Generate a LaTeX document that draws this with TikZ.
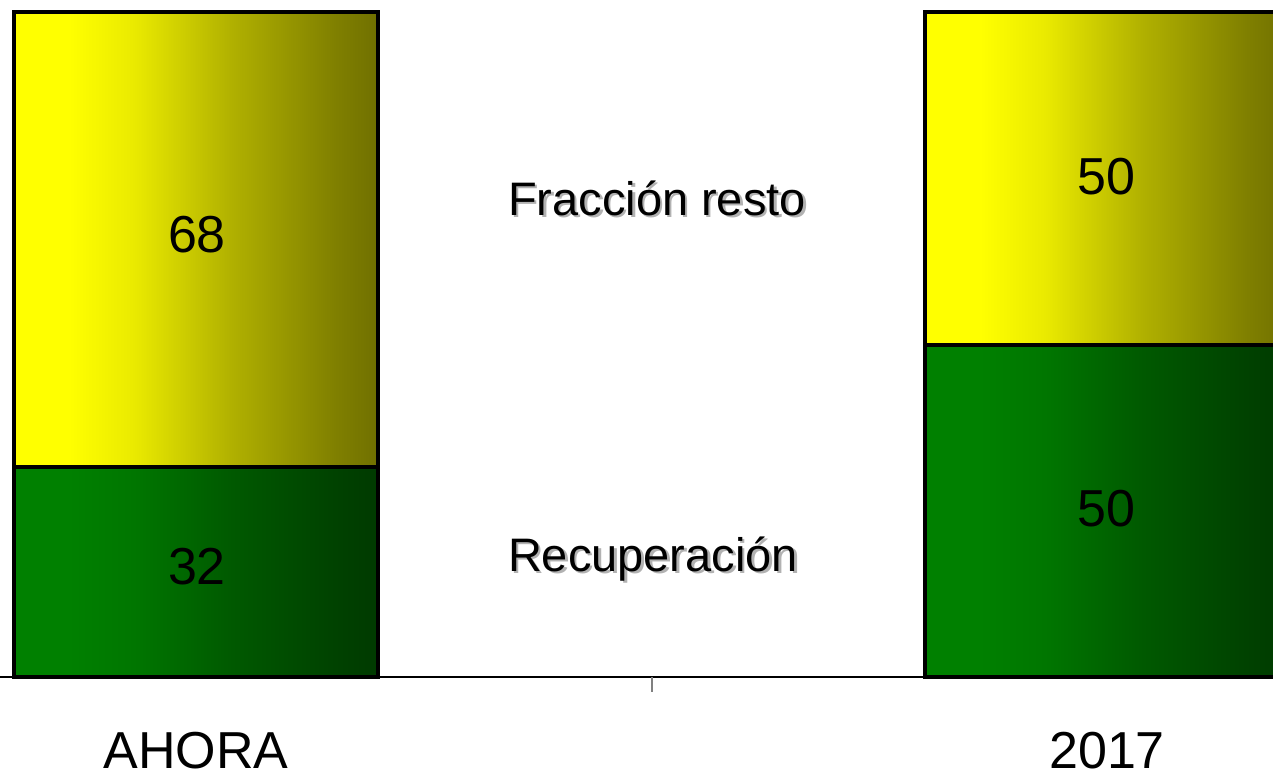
\documentclass[tikz,border=0pt]{standalone}
\usepackage{fontspec}
\setmainfont{Liberation Sans}
\definecolor{ylL}{RGB}{255,255,0}
\definecolor{ylA}{RGB}{234,234,0}
\definecolor{ylB}{RGB}{176,176,0}
\definecolor{ylC}{RGB}{128,128,0}
\definecolor{ylR}{RGB}{112,112,0}
\definecolor{grL}{RGB}{0,128,0}
\definecolor{grA}{RGB}{0,118,0}
\definecolor{grB}{RGB}{0,89,0}
\definecolor{grC}{RGB}{0,66,0}
\definecolor{grR}{RGB}{0,58,0}
\definecolor{shadowgray}{RGB}{178,178,178}
\pgfdeclarehorizontalshading{yshade}{100bp}{color(0bp)=(ylL); color(25bp)=(ylL); color(32.5bp)=(ylL); color(41.5bp)=(ylA); color(55bp)=(ylB); color(69bp)=(ylC); color(75bp)=(ylR); color(100bp)=(ylR)}
\pgfdeclarehorizontalshading{gshade}{100bp}{color(0bp)=(grL); color(25bp)=(grL); color(32.5bp)=(grL); color(41.5bp)=(grA); color(55bp)=(grB); color(69bp)=(grC); color(75bp)=(grR); color(100bp)=(grR)}
\tikzset{
  ybar/.style={shading=yshade,draw=black,line width=4pt},
  gbar/.style={shading=gshade,draw=black,line width=4pt},
  val/.style={inner sep=0pt,font=\fontsize{52}{60}\selectfont},
  cat/.style={inner sep=0pt,font=\fontsize{52}{60}\selectfont},
  legend/.style={inner sep=0pt,font=\fontsize{47}{56}\selectfont},
}
\begin{document}
\begin{tikzpicture}[x=1pt,y=-1pt]
\useasboundingbox (0,0) rectangle (1273,775);
\clip (0,0) rectangle (1273,775);
% left bar
\shade[ybar] (14,12) rectangle (378,467);
\shade[gbar] (14,467) rectangle (378,677);
% right bar
\shade[ybar] (925,12) rectangle (1289,345);
\shade[gbar] (925,345) rectangle (1289,677);
% axis
\coordinate (axL) at (0,677);
\coordinate (axR) at (1273,677);
\coordinate (tkT) at (652,677);
\coordinate (tkB) at (652,692);
\draw[line width=2pt] (axL) -- (axR);
\draw[line width=1.5pt,gray] (tkT) -- (tkB);
% values
\node[val] (v68) at (197,235) {68};
\node[val] (v32) at (197,567) {32};
\node[val] (v50a) at (1106,177) {50};
\node[val] (v50b) at (1106,509) {50};
% legend labels with shadow
\node[legend,text=shadowgray] (fsh) at (659.5,200.5) {Fracción resto};
\node[legend] (fr) at (657,198) {Fracción resto};
\node[legend,text=shadowgray] (rsh) at (655.5,561.5) {Recuperación};
\node[legend] (rc) at (653,559) {Recuperación};
% categories
\node[cat] (ahora) at (196,751) {AHORA};
\node[cat] (y2017) at (1107,751) {2017};
\end{tikzpicture}
\end{document}
